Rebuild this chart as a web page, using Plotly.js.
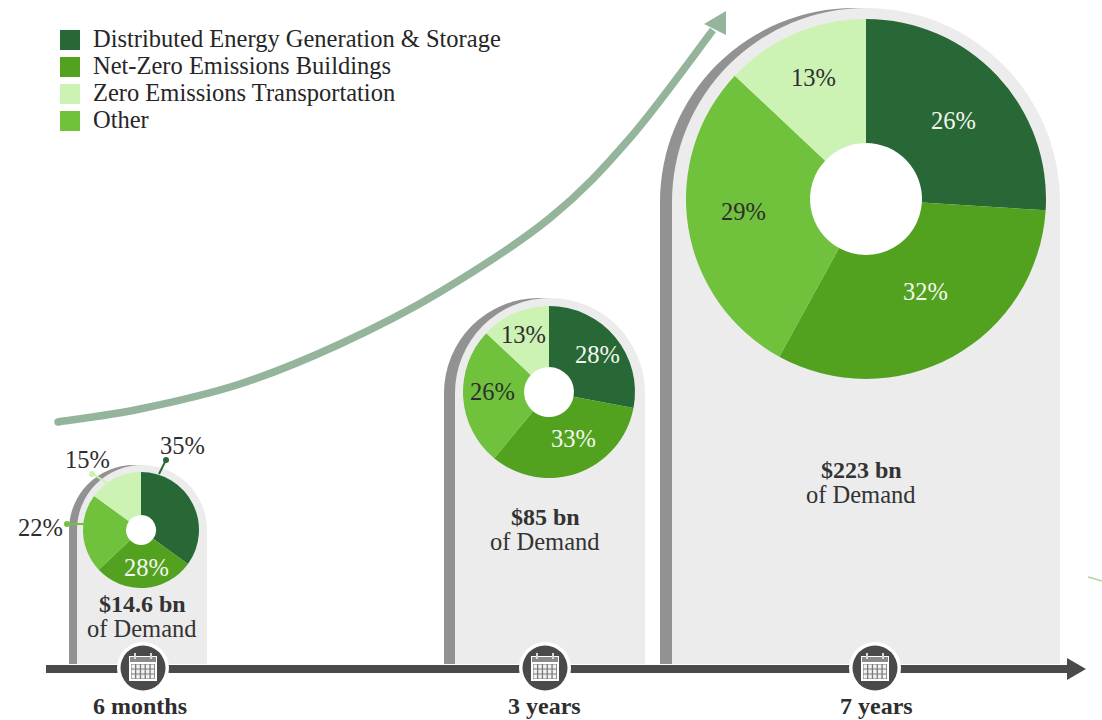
<!DOCTYPE html>
<html>
<head>
<meta charset="utf-8">
<script src="https://cdn.plot.ly/plotly-3.0.1.min.js"></script>
<style>html,body{margin:0;padding:0;background:#fff}#chart{width:1102px;height:720px}</style>
</head>
<body>
<div id="chart"></div>
<script>
const categories = ['Distributed Energy Generation & Storage','Net-Zero Emissions Buildings','Other','Zero Emissions Transportation'];
const legendOrder = [0,1,3,2];
const colors = ['#286736','#52a220','#70c23c','#ccf2b4'];
const periods = ['6 months','3 years','7 years'];
const demandLabels = ['$14.6 bn','$85 bn','$223 bn'];
const values6Months = [35,28,22,15];
const values3Years = [28,33,26,13];
const values7Years = [26,32,29,13];

const W = 1102, H = 720;
const FONT = '"Liberation Serif", serif';
const GRAY_BG = '#ececec', GRAY_BAR = '#929292', DARK = '#4a4a4a', ARROW = '#94b59c', TXT = '#2e2e2e';

const pies = [
  {vals: values6Months, cx:141, cy:530, r:58,  hole:15, ax:142, ay:530, ar:65,  barW:8,  iconX:143},
  {vals: values3Years,  cx:549, cy:392, r:86,  hole:25, ax:550, ay:393, ar:95,  barW:11, iconX:545},
  {vals: values7Years,  cx:866, cy:199, r:180, hole:56, ax:866, ay:202, ar:194, barW:12, iconX:875}
];
const BASE = 664, AXIS_Y = 669;

const shapes = [];
const rect = (x0,y0,x1,y1,c,layer='below') => shapes.push({type:'rect',xref:'x',yref:'y',x0,y0,x1,y1,fillcolor:c,line:{width:0},layer});
const circ = (cx,cy,r,c,layer='below') => shapes.push({type:'circle',xref:'x',yref:'y',x0:cx-r,y0:cy-r,x1:cx+r,y1:cy+r,fillcolor:c,line:{width:0},layer});
const path = (p,fill,lc,lw,layer='below') => shapes.push({type:'path',xref:'x',yref:'y',path:p,fillcolor:fill,line:{color:lc,width:lw},layer});

// arches
pies.forEach(p=>{
  circ(p.ax-p.barW,p.ay,p.ar,GRAY_BAR);
  rect(p.ax-p.ar-p.barW,p.ay,p.ax+p.ar-p.barW,BASE,GRAY_BAR);
  circ(p.ax,p.ay,p.ar,GRAY_BG);
  rect(p.ax-p.ar,p.ay,p.ax+p.ar,BASE,GRAY_BG);
  circ(p.cx,p.cy,p.hole,'#ffffff');
});

// growth arrow: smooth curve through guide points
const guide = [[58,422],[140,409],[240,384],[340,344],[440,292],[550,218],[630,138],[713,30]];
let d = `M${guide[0][0]},${guide[0][1]}`;
for(let i=0;i<guide.length-1;i++){
  const p0=guide[Math.max(i-1,0)],p1=guide[i],p2=guide[i+1],p3=guide[Math.min(i+2,guide.length-1)];
  const c1=[p1[0]+(p2[0]-p0[0])/6,p1[1]+(p2[1]-p0[1])/6], c2=[p2[0]-(p3[0]-p1[0])/6,p2[1]-(p3[1]-p1[1])/6];
  d+=` C${c1[0]},${c1[1]} ${c2[0]},${c2[1]} ${p2[0]},${p2[1]}`;
}
path(d,'rgba(0,0,0,0)',ARROW,7.5);
circ(58,422,3.75,ARROW);
path('M726,11 L704,24 L726,35 Z',ARROW,ARROW,0);

// time axis
rect(46,665,1068,673,DARK);
path('M1067,658 L1086,669 L1067,680 Z',DARK,DARK,0);

// calendar icons
pies.forEach(p=>{
  const x=p.iconX, y=AXIS_Y-1;
  circ(x,y,26,'#ffffff');
  circ(x,y,22.5,DARK);
  rect(x-14,y-12,x+14,y+13,'#ffffff');
  rect(x-13,y-11,x+13,y-6,'#8a8a8a');
  rect(x-9,y-15,x-7,y-9,'#d9d9d9');
  rect(x+7,y-15,x+9,y-9,'#d9d9d9');
  rect(x-12,y-4,x+12,y+11,'#7a7a7a');
  for(let i=0;i<5;i++) for(let j=0;j<3;j++){
    rect(x-11.5+i*4.8,y-3.5+j*5,x-8+i*4.8,y+0.5+j*5,'#f2f2f2');
  }
});

// leader lines on small pie
path('M159,474 L166,460','rgba(0,0,0,0)',colors[0],2,'above');  circ(166,460,3,colors[0],'above');
path('M107,483 L93,474','rgba(0,0,0,0)',colors[3],2,'above');   circ(92,474,3,colors[3],'above');
path('M96,524 L67,524','rgba(0,0,0,0)',colors[2],2,'above');    circ(67,524,3,colors[2],'above');

// stray mark at right edge
path('M1088,577 L1102,581','rgba(0,0,0,0)','#a9d6a0',1.5);

const ann = [];
const label = (x,y,text,size,color=TXT,anchor='center') => ann.push({
  xref:'x',yref:'y',x,y,text,showarrow:false,xanchor:anchor,yanchor:'middle',
  font:{family:FONT,size,color}
});

// legend
legendOrder.forEach((c,i)=>{
  const y = 40 + i*27;
  rect(60,y-10,80,y+10,colors[c]);
  label(91,y-2,categories[c],24.5,'#262626','left');
});

// pie labels
const LIGHT = '#f4f8ee';
const labelPos = [
  [[182,445,TXT],[146,567,LIGHT],[40,527,TXT],[87,459,TXT]],
  [[597,354,LIGHT],[573,438,LIGHT],[492,391,TXT],[523,334,TXT]],
  [[953,120,LIGHT],[925,291,LIGHT],[743,211,TXT],[813,77,TXT]]
];
pies.forEach((p,i)=>p.vals.forEach((v,j)=>{
  const [x,y,c]=labelPos[i][j];
  label(x,y,v+'%',24.5,c);
}));

// demand text
const demandPos = [[142,604,628],[545,517,541],[861,470,494]];
demandLabels.forEach((t,i)=>{
  const [x,y1,y2]=demandPos[i];
  label(x,y1,'<b>'+t+'</b>',24,'#333333');
  label(x,y2,'of Demand',24.5,'#333333');
});

// period text
const periodX = [140,544,876];
periods.forEach((t,i)=>label(periodX[i],706,'<b>'+t+'</b>',24,'#2e2e2e'));

const traces = [{type:'scatter',x:[null],y:[null],showlegend:false,hoverinfo:'skip'}];
pies.forEach(p=>traces.push({
  type:'pie',labels:categories,values:p.vals,sort:false,direction:'clockwise',rotation:0,
  hole:p.hole/p.r,textinfo:'none',showlegend:false,
  marker:{colors:colors,line:{width:0}},
  domain:{x:[(p.cx-p.r)/W,(p.cx+p.r)/W],y:[1-(p.cy+p.r)/H,1-(p.cy-p.r)/H]}
}));

Plotly.newPlot('chart',traces,{
  width:W,height:H,margin:{l:0,r:0,t:0,b:0},
  paper_bgcolor:'#ffffff',plot_bgcolor:'rgba(0,0,0,0)',showlegend:false,
  xaxis:{range:[0,W],visible:false,fixedrange:true},
  yaxis:{range:[H,0],visible:false,fixedrange:true},
  shapes,annotations:ann
},{displayModeBar:false,staticPlot:true});
</script>
</body>
</html>
